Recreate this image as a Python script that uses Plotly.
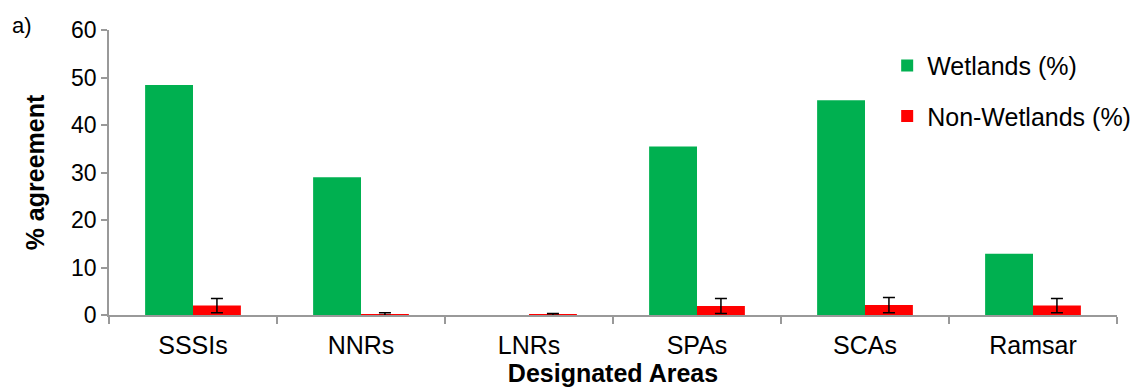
import plotly.graph_objects as go

categories = ["SSSIs", "NNRs", "LNRs", "SPAs", "SCAs", "Ramsar"]
wetlands = [48.4, 29.0, 0.0, 35.5, 45.2, 12.9]
non_wetlands = [2.0, 0.2, 0.1, 1.9, 2.1, 2.0]
non_wetlands_err = [1.5, 0.3, 0.2, 1.6, 1.6, 1.5]
y_ticks = [0, 10, 20, 30, 40, 50, 60]

FONT = "Liberation Sans, Arial, sans-serif"

fig = go.Figure()
fig.add_trace(go.Bar(
    x=categories, y=wetlands, name="Wetlands (%)",
    marker=dict(color="#00B050", line=dict(width=0)),
    legendgroup="a",
))
fig.add_trace(go.Bar(
    x=categories, y=non_wetlands, name="Non-Wetlands (%)",
    marker=dict(color="#FF0000", line=dict(width=0)),
    error_y=dict(type="data", array=non_wetlands_err, visible=True,
                 color="black", thickness=1.5, width=6),
    legendgroup="b",
))

fig.update_layout(
    width=1141, height=389,
    margin=dict(l=101, r=32, t=22, b=82, autoexpand=False),
    paper_bgcolor="white", plot_bgcolor="white",
    barmode="group", bargap=0.43, bargroupgap=0,
    font=dict(family=FONT, size=22, color="black"),
    showlegend=True,
    legend=dict(x=0.772, y=0.955, xanchor="left", yanchor="top",
                font=dict(size=25), tracegroupgap=15,
                bgcolor="rgba(0,0,0,0)", itemwidth=30),
    xaxis=dict(
        automargin=False,
        showline=True, linecolor="#999999", linewidth=1.5,
        ticks="outside", tickson="boundaries", ticklen=7, tickcolor="#999999",
        tickwidth=1.5, ticklabelstandoff=7,
        title=dict(text="<b>Designated Areas</b>", font=dict(size=25), standoff=3),
        tickfont=dict(size=25),
    ),
    yaxis=dict(
        automargin=False,
        range=[0, 60], tickvals=y_ticks,
        showline=True, linecolor="#999999", linewidth=1.5,
        ticks="outside", ticklen=6, tickcolor="#999999", tickwidth=1.5,
        showgrid=False, zeroline=False,
        title=dict(text="<b>% agreement</b>", font=dict(size=25), standoff=19),
        tickfont=dict(size=23),
    ),
    annotations=[dict(text="a)", xref="paper", yref="paper", x=-0.0982, y=1.0175,
                      xanchor="left", yanchor="middle",
                      showarrow=False, font=dict(size=22))],
)

fig.write_html("out.html")
